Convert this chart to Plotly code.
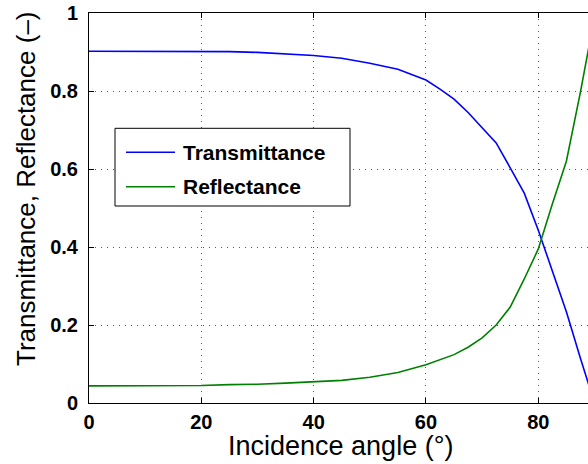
import plotly.graph_objects as go

# Data
angles = [0, 5, 10, 15, 20, 25, 30, 35, 40, 45, 50, 55, 60, 62.5, 65, 67.5, 70,
          72.5, 75, 77.5, 80, 82.5, 85, 87.5, 90]
transmittance = [0.902, 0.902, 0.902, 0.902, 0.902, 0.901, 0.899, 0.895, 0.891,
                 0.884, 0.871, 0.856, 0.828, 0.805, 0.779, 0.745, 0.706, 0.667,
                 0.603, 0.538, 0.443, 0.339, 0.234, 0.115, 0.0]
reflectance = [0.044, 0.044, 0.044, 0.044, 0.045, 0.047, 0.048, 0.051, 0.054,
               0.058, 0.066, 0.078, 0.098, 0.111, 0.124, 0.143, 0.167, 0.200,
               0.246, 0.318, 0.395, 0.510, 0.620, 0.797, 0.99]
series_names = ["Transmittance", "Reflectance"]
series_colors = ["#0000FF", "#008000"]
x_ticks = [0, 20, 40, 60, 80]
y_ticks = [0, 0.2, 0.4, 0.6, 0.8, 1]
y_tick_text = ["0", "0.2", "0.4", "0.6", "0.8", "1"]
x_title = "Incidence angle (°)"
y_title = "Transmittance, Reflectance (–)"

FONT = "Liberation Sans, Arial, Helvetica, sans-serif"

fig = go.Figure()
for name, ys, col in zip(series_names, [transmittance, reflectance], series_colors):
    fig.add_trace(go.Scatter(x=angles, y=ys, mode="lines", name=name,
                             line=dict(color=col, width=1.6), showlegend=False))

W, H = 588, 464
L, T, B = 89, 13, 61
pw, ph = W - L, H - T - B

fig.update_layout(
    width=W, height=H, autosize=False,
    margin=dict(l=L, r=0, t=T, b=B, pad=0),
    paper_bgcolor="white", plot_bgcolor="white",
    font=dict(family=FONT, color="black"),
)
fig.update_xaxes(
    range=[0, 88.85], tickvals=x_ticks, ticktext=[str(v) for v in x_ticks],
    ticks="inside", ticklen=5, tickcolor="black", tickwidth=1,
    showline=True, linecolor="black", linewidth=1, mirror="ticks",
    showgrid=True, gridcolor="#555555", griddash="1px,5px", gridwidth=1,
    zeroline=False, tickfont=dict(size=20, family=FONT, weight="bold"),
    ticklabelstandoff=1,
)
fig.update_yaxes(
    range=[0, 1], tickvals=y_ticks, ticktext=y_tick_text,
    ticks="inside", ticklen=5, tickcolor="black", tickwidth=1,
    showline=True, linecolor="black", linewidth=1, mirror=False,
    showgrid=True, gridcolor="#555555", griddash="1px,5px", gridwidth=1,
    zeroline=False, tickfont=dict(size=20, family=FONT, weight="bold"),
    ticklabelstandoff=6,
)

def px_x(p):
    return (p - L) / pw

def px_y(p):
    return (H - B - p) / ph

# axis titles
fig.add_annotation(text=x_title, xref="paper", yref="paper",
                   x=px_x(340), y=px_y(446), xanchor="center", yanchor="middle",
                   showarrow=False, font=dict(size=27, family=FONT))
fig.add_annotation(text=y_title, xref="paper", yref="paper", textangle=-90,
                   x=px_x(26), y=px_y(189), xanchor="center", yanchor="middle",
                   showarrow=False, font=dict(size=26, family=FONT))

# legend box
fig.add_shape(type="rect", xref="paper", yref="paper",
              x0=px_x(115), x1=px_x(350), y0=px_y(206), y1=px_y(128.3),
              line=dict(color="black", width=1), fillcolor="white", layer="above")
row_y = [152.3, 186.7]
for name, col, ry in zip(series_names, series_colors, row_y):
    fig.add_shape(type="line", xref="paper", yref="paper",
                  x0=px_x(126), x1=px_x(175), y0=px_y(ry), y1=px_y(ry),
                  line=dict(color=col, width=1.6), layer="above")
    fig.add_annotation(text=name, xref="paper", yref="paper",
                       x=px_x(181), y=px_y(ry), xanchor="left", yanchor="middle",
                       showarrow=False, font=dict(size=21, family=FONT, weight="bold"))

fig.write_html("out.html", config={"displayModeBar": False},
               post_script="document.body.style.margin='0px';"
                           "document.body.style.overflow='hidden';")
